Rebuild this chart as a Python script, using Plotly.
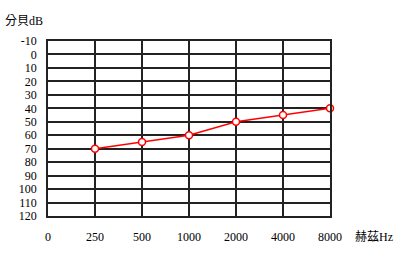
import plotly.graph_objects as go

freq_labels = ["0", "250", "500", "1000", "2000", "4000", "8000"]
point_freqs = ["250", "500", "1000", "2000", "4000", "8000"]
db_values = [70, 65, 60, 50, 45, 40]
y_ticks = list(range(-10, 121, 10))

W, H = 400, 255
L, R, T, B = 48, 70, 41, 39
pw, ph = W - L - R, H - T - B

def px(x):
    return (x - L) / pw

def py(y):
    return (H - B - y) / ph

xpos = [freq_labels.index(f) for f in point_freqs]

fig = go.Figure()
fig.add_trace(go.Scatter(
    x=xpos, y=db_values, mode="lines+markers",
    line=dict(color="#ff0000", width=1.5),
    marker=dict(symbol="circle", size=7, color="white", line=dict(width=1.5, color="#ff0000")),
    showlegend=False, cliponaxis=False,
))

serif = "Liberation Serif, Times New Roman, serif"
fig.update_layout(
    width=W, height=H,
    margin=dict(l=L, r=R, t=T, b=B, autoexpand=False),
    paper_bgcolor="white", plot_bgcolor="white",
    font=dict(family=serif, size=12, color="black"),
    xaxis=dict(
        range=[0, 6], tickmode="array", tickvals=list(range(len(freq_labels))),
        ticktext=freq_labels, showgrid=True, gridcolor="#222", gridwidth=1.5,
        showline=True, linecolor="#222", linewidth=1.5, mirror=True,
        zeroline=False, ticks="", ticklabelstandoff=9, automargin=False,
        tickfont=dict(family=serif, size=12, color="black"),
    ),
    yaxis=dict(
        range=[120, -10], tickmode="array", tickvals=y_ticks,
        ticktext=[str(v) for v in y_ticks], showgrid=True, gridcolor="#222", gridwidth=1.5,
        showline=True, linecolor="#222", linewidth=1.5, mirror=True,
        zeroline=False, ticks="", ticklabelstandoff=7, automargin=False,
        tickfont=dict(family=serif, size=12, color="black"),
    ),
    annotations=[
        dict(text="分貝dB", xref="paper", yref="paper", x=px(3), y=py(21),
             xanchor="left", yanchor="middle", showarrow=False,
             font=dict(family="Liberation Serif, Noto Sans CJK TC", size=12, color="black")),
        dict(text="赫茲Hz", xref="paper", yref="paper", x=px(353), y=py(237),
             xanchor="left", yanchor="middle", showarrow=False,
             font=dict(family="Liberation Serif, Noto Sans CJK TC", size=12, color="black")),
    ],
)

fig.write_html("out.html")
